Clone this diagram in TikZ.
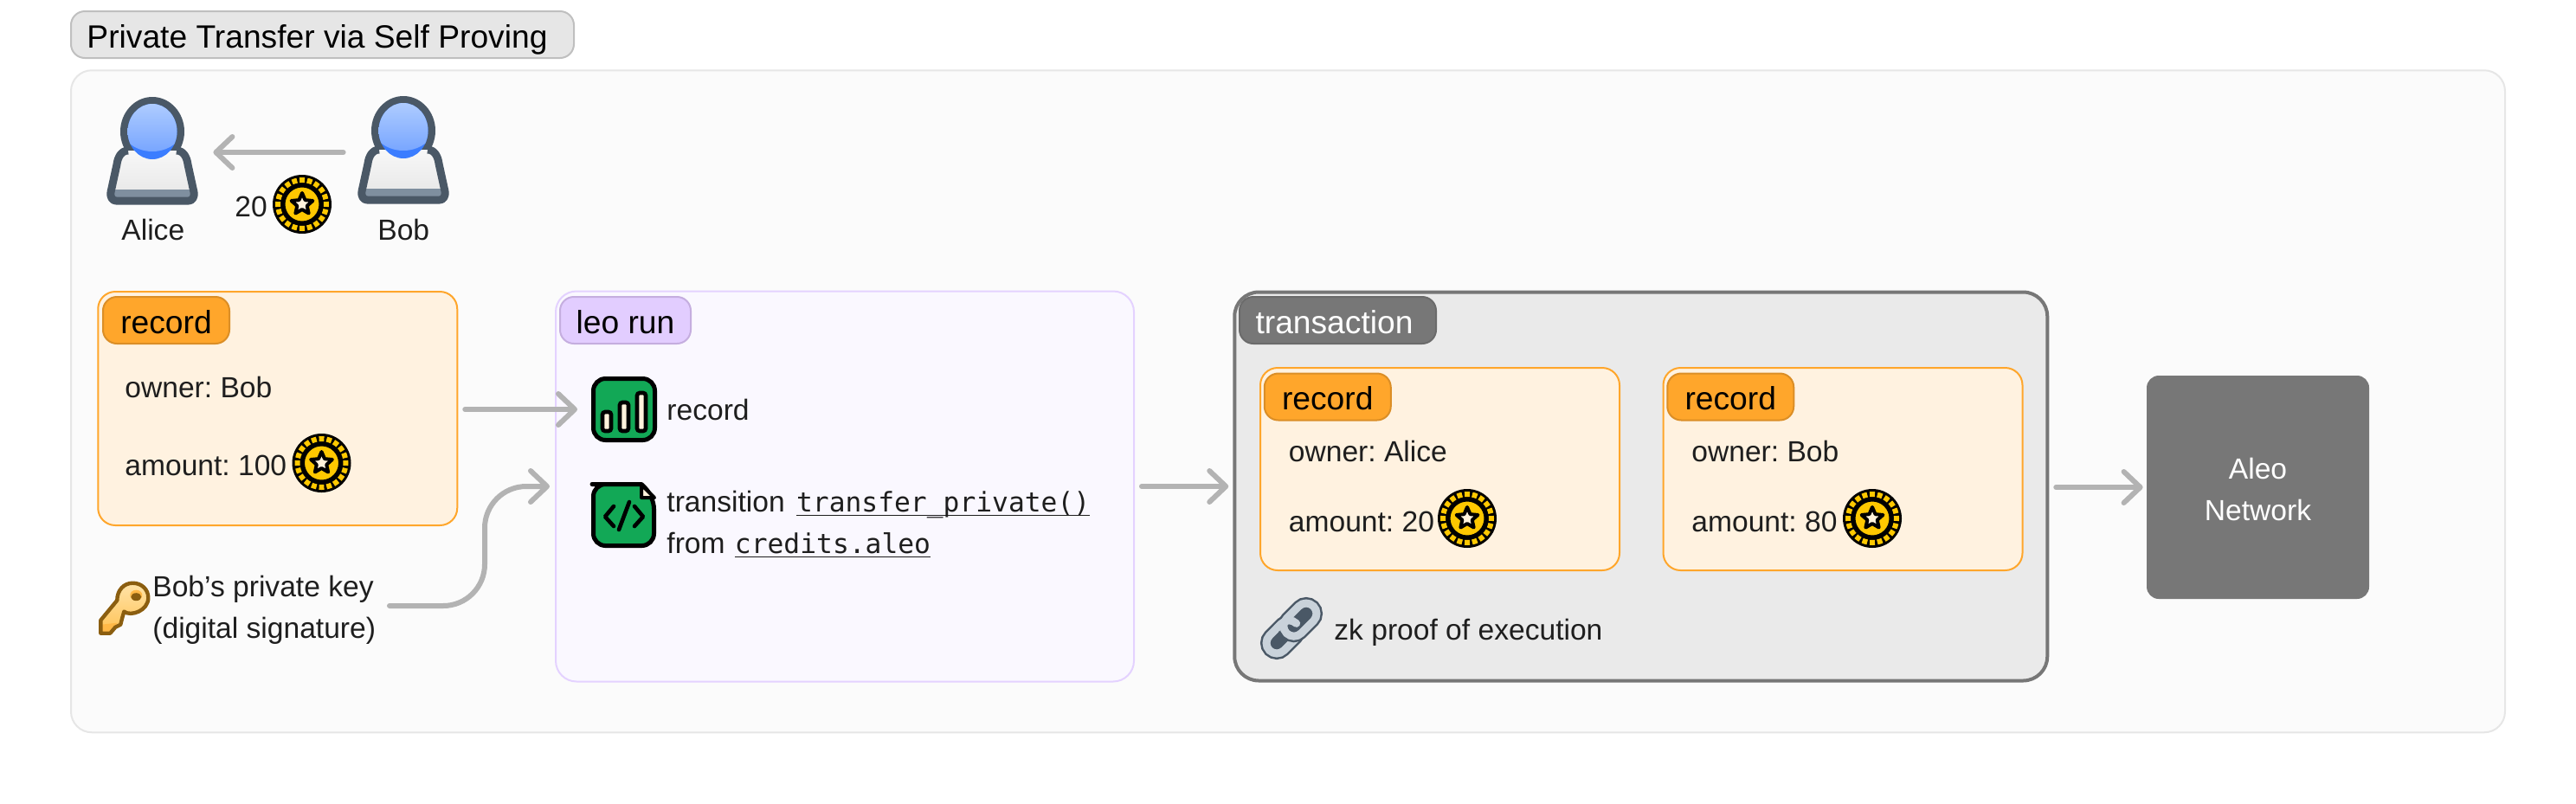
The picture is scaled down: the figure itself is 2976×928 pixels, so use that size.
\documentclass[tikz,border=0pt]{standalone}
\usepackage{fontspec}
\setmainfont{Liberation Sans}
\newfontfamily\codefont{DejaVu Sans Mono}
\usetikzlibrary{arrows.meta}
\frenchspacing

\definecolor{arrowGray}{HTML}{B3B3B3}
\definecolor{panelFill}{HTML}{FBFBFB}
\definecolor{panelLine}{HTML}{E6E6E6}
\definecolor{recLine}{HTML}{FFA62B}
\definecolor{recFill}{HTML}{FFF2E0}
\definecolor{recTagLine}{HTML}{DB8E26}
\definecolor{leoLine}{HTML}{E4D2FF}
\definecolor{leoFill}{HTML}{FAF8FF}
\definecolor{leoTag}{HTML}{E2CDFF}
\definecolor{leoTagLine}{HTML}{C5AEDF}
\definecolor{txFill}{HTML}{EAEAEA}
\definecolor{netGray}{HTML}{777777}
\definecolor{coinGold}{HTML}{FFC800}
\definecolor{cream}{HTML}{FFF3DC}
\definecolor{iconGreen}{HTML}{12A856}
\definecolor{userDark}{HTML}{4A5866}
\definecolor{userStrip}{HTML}{7F8F9F}
\definecolor{headLight}{HTML}{B9D3FF}
\definecolor{headMid}{HTML}{78A6FF}
\definecolor{headDeep}{HTML}{3B7DFF}
\definecolor{keyBrown}{HTML}{8B5E10}
\definecolor{keyLight}{HTML}{FFE3A8}
\definecolor{keyMid}{HTML}{FFC254}
\definecolor{linkGray}{HTML}{C9D2DA}
\definecolor{textDark}{HTML}{1E1E1E}

\newcommand{\bodysize}{\fontsize{16.8}{24}\selectfont}
\newcommand{\tagsize}{\fontsize{18.6}{24}\selectfont}
% code with a line under it, the line cuts through the descenders
\newcommand{\codeword}[1]{\setbox0\hbox{\codefont\fontsize{15.65}{24}\selectfont #1}\rlap{\raisebox{-2.7pt}{\rule{\wd0}{0.8pt}}}\box0}

\tikzset{
  flow/.style={draw=arrowGray, line width=3pt, line cap=round, -{Straight Barb[length=9.5pt,width=18pt,round]}},
  lbl/.style={anchor=base west, inner sep=0pt, yshift=-1pt, font=\bodysize, text=textDark},
  tagbox/.style={draw, rounded corners=8pt, line width=1pt, inner sep=0pt, minimum height=27pt,
    text height=15pt, text depth=0pt, font=\tagsize},
  rectag/.style={tagbox, draw=recTagLine, fill=recLine, minimum width=73pt, text=black},
  recordbox/.style={draw=recLine, fill=recFill, line width=1pt, rounded corners=10pt, inner sep=0pt, minimum width=207.5pt},
  iconbox/.style={draw=black, fill=iconGreen, line width=2.5pt, rounded corners=7pt, inner sep=0pt, minimum size=35.5pt},
  bar/.style={draw=black, fill=cream, line width=2.3pt, rounded corners=1.5pt},
  usernode/.style={inner sep=0pt, minimum width=52pt, minimum height=62pt},
  coin/.pic={
    \fill[black] (0,0) circle (34);
    \foreach \a in {0,18,...,342} {
      \draw[coinGold, line width=3pt] (\a-6:28) arc[start angle=\a-6, end angle=\a+6, radius=28];
    }
    \draw[black, fill=coinGold, line width=2pt] (0,0) circle (21.5);
    \draw[black, fill=cream, line width=2pt, line join=round]
      (270:13) -- (306:6) -- (342:13) -- (18:6) -- (54:13) -- (90:6) -- (126:13) -- (162:6) -- (198:13) -- (234:6) -- cycle;
  },
  user/.pic={
    \fill[userDark] (0,2) ellipse [x radius=37, y radius=40];
    \shade[top color=white!97!black, bottom color=black!10]
      (-28,24) .. controls (-36,24) and (-40,32) .. (-41,40) -- (-48,72) .. controls (-49,78) and (-46,82) .. (-42,82)
      -- (42,82) .. controls (46,82) and (49,78) .. (48,72) -- (41,40) .. controls (40,32) and (36,24) .. (28,24) -- cycle;
    \fill[userStrip] (-45,69) -- (45,69) -- (45,78) -- (-45,78) -- cycle;
    \draw[userDark, line width=4.5pt, line join=round]
      (-28,24) .. controls (-36,24) and (-40,32) .. (-41,40) -- (-48,72) .. controls (-49,78) and (-46,82) .. (-42,82)
      -- (42,82) .. controls (46,82) and (49,78) .. (48,72) -- (41,40) .. controls (40,32) and (36,24) .. (28,24);
    \fill[headDeep] (0,2) ellipse [x radius=28.5, y radius=32];
    \begin{scope}
      \clip (0,2) ellipse [x radius=28.5, y radius=32];
      \shade[top color=headLight, bottom color=headMid] (0,-8) ellipse [x radius=38, y radius=33];
    \end{scope}
  },
  keyicon/.pic={
    \shade[top color=keyLight, bottom color=keyMid]
      (-10,15) .. controls (-2,21) and (18,14) .. (18,-1) .. controls (18,-11) and (10,-18) .. (0,-18) .. controls (-10,-18) and (-18,-10) .. (-18,2)
      -- (-37,25) -- (-37,40) -- (-26,40) -- (-20,33) -- (-14,30) -- (-12,22) -- cycle;
    \fill[keyMid!85!orange] (-36,30) -- (-18,28) -- (-20,33) -- (-26,40) -- (-36,40) -- cycle;
    \draw[keyBrown, line width=2.2pt, line join=round]
      (-10,15) .. controls (-2,21) and (18,14) .. (18,-1) .. controls (18,-11) and (10,-18) .. (0,-18) .. controls (-10,-18) and (-18,-10) .. (-18,2)
      -- (-37,25) -- (-37,40) -- (-26,40) -- (-20,33) -- (-14,30) -- (-12,22) -- cycle;
    \fill[keyMid!85!orange] (4,-4) ellipse [x radius=7, y radius=6];
    \fill[keyBrown] (4,-2) ellipse [x radius=6, y radius=4.5];
  },
  chainlink/.style={line width=4.5pt, draw=linkGray, rounded corners=6pt},
  chainback/.style={line width=7pt, draw=userDark, fill=userDark, rounded corners=6pt},
}

\begin{document}
\begin{tikzpicture}[x=0.5pt,y=-0.5pt]
  \useasboundingbox (0,0) rectangle (2976,928);

  % title and outer panel
  \node[tagbox, draw=black!25, fill=panelLine, minimum width=290.5pt, minimum height=27pt, text=black, execute at begin node={\kern-6pt}] (titleTag) at (372.5,40) {Private Transfer via Self Proving};
  \node[draw=panelLine, fill=panelFill, line width=1pt, rounded corners=12pt, inner sep=0pt, minimum width=1406pt, minimum height=382.5pt] (mainPanel) at (1488,463.75) {};

  % the two users
  \node[usernode] (aliceUser) at (176,174) {};
  \node[usernode] (bobUser) at (466,174) {};
  \pic at (176,150) {user};
  \pic at (466,149) {user};
  \node[lbl] (aliceName) at (140,275) {Alice};
  \node[lbl] (bobName) at (436,275) {Bob};
  \node[lbl] (payAmount) at (271,248) {20};
  \pic at (349,236) {coin};
  \draw[flow, shorten <=8.5pt, shorten >=9pt] (bobUser.west |- 0,176) -- (aliceUser.east |- 0,176);

  % input record
  \node[recordbox, minimum height=135pt] (recInput) at (320.75,472) {};
  \node[rectag] (recInputTag) at (192,370) {record};
  \node[lbl] (recInputOwner) at (144,457) {owner: Bob};
  \node[lbl] (recInputAmount) at (144,547) {amount: 100};
  \pic at (371.5,535) {coin};

  % signing key
  \pic at (153.3,691.7) {keyicon};
  \node[lbl] (keyLineA) at (176,687) {Bob’s private key};
  \node[lbl] (keyLineB) at (176,735) {(digital signature)};
  \coordinate (keyOut) at (450,700);
  \coordinate (keyBend) at (560,700);

  % leo run
  \node[draw=leoLine, fill=leoFill, line width=1pt, rounded corners=12pt, inner sep=0pt, minimum width=334pt, minimum height=225.5pt] (leoRun) at (976,562) {};
  \node[tagbox, draw=leoTagLine, fill=leoTag, minimum width=75.5pt, text=black] (leoTag) at (722.5,370) {leo run};
  \node[iconbox] (iconData) at (721,473) {};
  \draw[bar] (696,476) rectangle (706,498);
  \draw[bar] (716,465) rectangle (726,498);
  \draw[bar] (736,454) rectangle (746,498);
  \node[lbl] (dataText) at (770,483) {record};
  \draw[black, fill=iconGreen, line width=2.5pt, line join=round, rounded corners=7pt] (741,559.5) -- (698,559.5) -- (685.5,559.5) -- (685.5,630.5) -- (755.5,630.5) -- (755.5,574) [sharp corners] -- (741,559.5) -- cycle;
  \draw[black, fill=cream, line width=2pt, line join=round] (741,560) -- (741,575) -- (756,575) -- cycle;
  \draw[black, line width=2.3pt, line cap=round, line join=round] (709,585) -- (699,597) -- (709,608);
  \draw[black, line width=2.3pt, line cap=round, line join=round] (733,585) -- (743,597) -- (733,608);
  \draw[black, line width=2.3pt, line cap=round] (727,580) -- (715,612);
  \node[lbl] (codeTextA) at (770,589) {transition\kern2pt{} \codeword{transfer\_private()}};
  \node[lbl] (codeTextB) at (770,637) {from\kern1pt{} \codeword{credits.aleo}};

  % transaction
  \node[draw=netGray, fill=txFill, line width=2pt, rounded corners=14pt, inner sep=0pt, minimum width=469.5pt, minimum height=224.5pt] (txBox) at (1895.75,562) {};
  \node[tagbox, draw=netGray!90!black, fill=netGray, minimum width=113.5pt, text=white, execute at begin node={\kern-4pt}] (txTag) at (1545.5,370) {transaction};
  \foreach \nm/\cx/\who/\amt/\cnx in {recOutA/1663.5/Alice/20/1695, recOutB/2129/Bob/80/2163} {
    \node[recordbox, minimum height=117pt] (\nm) at (\cx,542) {};
    \node[rectag] (\nm Tag) at ({\cx-129.75},458.5) {record};
    \node[lbl] (\nm Owner) at ({\cx-175},531) {owner: \who};
    \node[lbl] (\nm Amount) at ({\cx-175},612) {amount: \amt};
    \pic at (\cnx,599) {coin};
  }

  % chain of the proof
  \begin{scope}[shift={(1492,726)}, rotate=45]
    \draw[chainback] (-36,-12) rectangle (8,12);
    \draw[chainlink] (-36,-12) rectangle (8,12);
    \draw[chainback] (-8,-12) rectangle (36,12);
    \draw[chainlink] (-8,-12) rectangle (36,12);
    \draw[chainlink, line cap=round] (-12,-12) -- (8,-12) -- (8,0);
  \end{scope}
  \node[lbl] (proofText) at (1541,737) {zk proof of execution};

  % network
  \node[fill=netGray, rounded corners=7pt, inner sep=0pt, minimum width=128.5pt, minimum height=129pt] (aleoNet) at (2608.5,563) {};
  \node[inner sep=0pt, text=white, font=\bodysize, align=center] (aleoText) at (2608.5,565) {Aleo\\Network};

  % connectors
  \draw[flow, shorten <=4pt, shorten >=8pt] (recInput.east |- iconData.west) -- (iconData.west);
  \draw[flow, rounded corners=24pt, shorten >=3pt] (keyOut) -- (keyBend) -- (keyBend |- leoRun.west) -- (leoRun.west);
  \draw[flow, shorten <=4pt, shorten >=2.5pt] (leoRun.east) -- (txBox.west);
  \draw[flow, shorten <=4pt, shorten >=2pt] (txBox.east |- aleoNet.west) -- (aleoNet.west);
\end{tikzpicture}
\end{document}
